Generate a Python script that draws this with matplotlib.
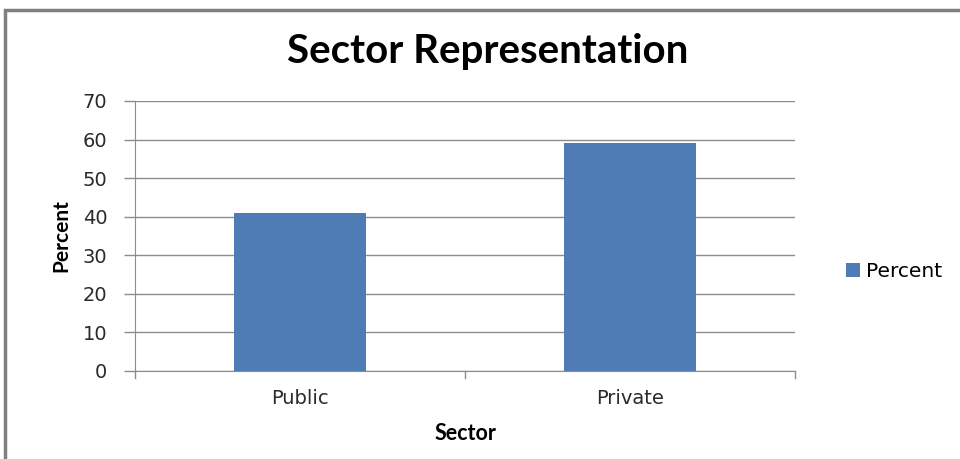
import matplotlib.pyplot as plt
from matplotlib.patches import Rectangle

# === Dados ===
setores = ["Public", "Private"]
percentuais = [41, 59]
yticks = [0, 10, 20, 30, 40, 50, 60, 70]

cor_barra = "#4F7CB4"
cor_grade = "#8C8C8C"

fig = plt.figure(figsize=(9.6, 4.59), dpi=100)
ax = fig.add_axes([135 / 960, 1 - 371 / 459, 660 / 960, 270 / 459])

x = list(range(len(setores)))
ax.bar(x, percentuais, width=0.4, color=cor_barra, label="Percent", zorder=3)

ax.set_xlim(-0.5, len(setores) - 0.5)
ax.set_ylim(0, 70)
ax.set_yticks(yticks)
ax.set_yticklabels([str(v) for v in yticks], fontsize=14, color="#2a2a2a")
ax.set_xticks(x)
ax.set_xticklabels(setores, fontsize=14, color="#2a2a2a")
ax.tick_params(axis="x", length=0, pad=13)
ax.tick_params(axis="y", length=8, width=1, color=cor_grade, pad=12)

# marcas entre categorias no eixo x
for b in [-0.5, 0.5, 1.5]:
    ax.plot([b, b], [0, -1.8], color=cor_grade, lw=1, clip_on=False)

ax.grid(axis="y", color=cor_grade, lw=1, zorder=0)
for lado in ["top", "right"]:
    ax.spines[lado].set_visible(False)
ax.spines["left"].set_color(cor_grade)
ax.spines["bottom"].set_color(cor_grade)

ax.set_xlabel("Sector", fontsize=15.5, fontweight="bold", family="Lato", labelpad=11)
ax.set_ylabel("Percent", fontsize=15, fontweight="bold", family="Lato", labelpad=8)

fig.text(488 / 960, 1 - 52 / 459, "Sector Representation", fontsize=29,
         fontweight="bold", family="Lato", ha="center", va="center")

ax.legend(loc="center left", bbox_to_anchor=(1.05, 0.367), frameon=False,
          fontsize=14.5, handlelength=0.7, handleheight=0.7, handletextpad=0.3)

# moldura do gráfico
fig.patches.append(Rectangle((5 / 960, -0.1), 1.1, 1 - 10 / 459 + 0.1,
                             transform=fig.transFigure, fill=False,
                             edgecolor="#808080", lw=2.5))

fig.savefig("out.png", dpi=100, facecolor="white")
